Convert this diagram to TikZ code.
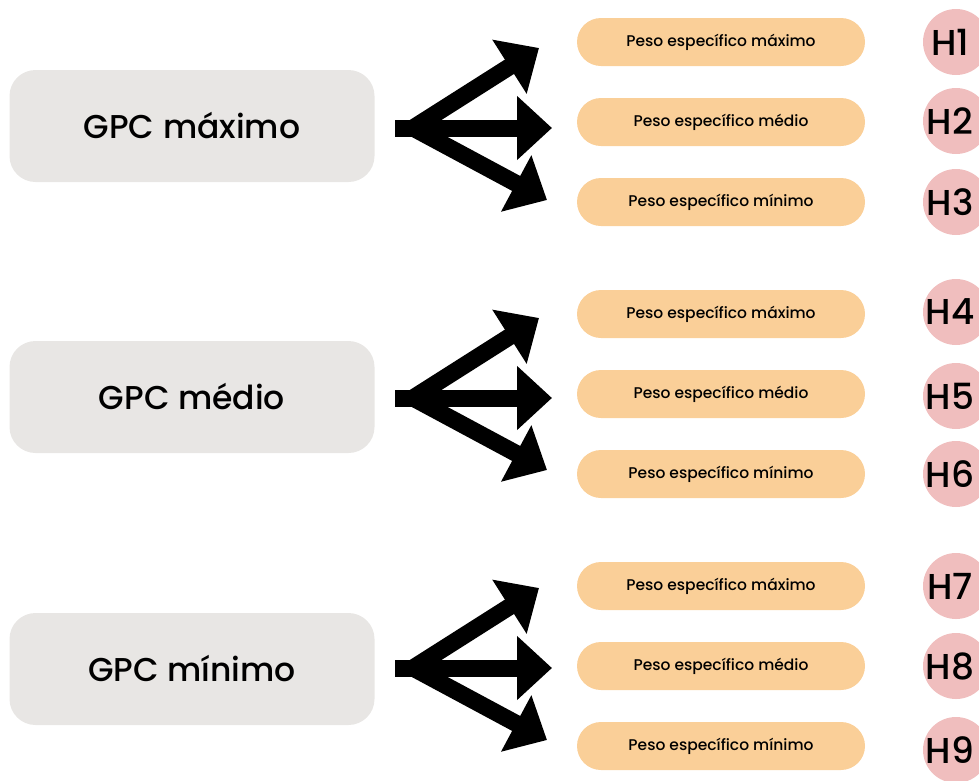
\documentclass[tikz,border=0pt]{standalone}
\usepackage{fontspec}
\setmainfont{Poppins Medium}
\usetikzlibrary{arrows.meta}
\definecolor{gpcgray}{RGB}{232,230,228}
\definecolor{pesoorange}{RGB}{250,207,152}
\definecolor{hpink}{RGB}{240,190,190}
\tikzset{
  gpcbox/.style={fill=gpcgray, draw=none, rounded corners=26pt,
    minimum width=365pt, minimum height=112pt, inner sep=0pt,
    font=\fontsize{33}{37}\selectfont},
  pesobox/.style={fill=pesoorange, draw=none, rounded corners=24pt,
    minimum width=288pt, minimum height=48pt, inner sep=0pt,
    font=\fontsize{15.5}{18}\selectfont},
  hcircle/.style={circle, fill=hpink, draw=none, minimum size=66pt,
    inner sep=0pt},
  htext/.style={inner sep=0pt, font=\fontsize{36}{40}\selectfont},
  bigarrow/.style={line width=17pt,
    -{Triangle[length=35pt,width=62pt]}},
  trunk/.style={line width=17pt}
}
\begin{document}
\begin{tikzpicture}[x=1pt,y=-1pt]
\useasboundingbox (0,0) rectangle (979,780);

% source boxes
\node[gpcbox] (g1) at (192,126) {GPC máximo};
\node[gpcbox] (g2) at (192,397) {GPC médio};
\node[gpcbox] (g3) at (192,669) {GPC mínimo};

% target pills
\node[pesobox] (p1) at (721,42)  {Peso específico máximo};
\node[pesobox] (p2) at (721,122) {Peso específico médio};
\node[pesobox] (p3) at (721,202) {Peso específico mínimo};
\node[pesobox] (p4) at (721,314) {Peso específico máximo};
\node[pesobox] (p5) at (721,394) {Peso específico médio};
\node[pesobox] (p6) at (721,474) {Peso específico mínimo};
\node[pesobox] (p7) at (721,586) {Peso específico máximo};
\node[pesobox] (p8) at (721,666) {Peso específico médio};
\node[pesobox] (p9) at (721,746) {Peso específico mínimo};

% hypothesis labels: pink disc with its label set slightly left of centre
\foreach \k/\y in {1/42,2/121,3/202,4/312,5/396,6/474,7/586,8/666,9/750}{
  \node[hcircle] (c\k) at (956,\y) {};
  \node[htext] (h\k) at ([xshift=-6pt]c\k.center) {H\k};
}

% three-way arrows
\foreach \i/\y in {1/128,2/398,3/668}{
  \coordinate (s\i) at (395,\y);
  \coordinate (j\i) at (413,\y);
  \coordinate (tu\i) at (539,\y-80);
  \coordinate (tm\i) at (552,\y);
  \coordinate (td\i) at (547,\y+72);
  \draw[trunk] (s\i) -- (430,\y);
  \draw[bigarrow] (j\i) -- (tu\i);
  \draw[bigarrow] (j\i) -- (tm\i);
  \draw[bigarrow] (j\i) -- (td\i);
}
\end{tikzpicture}
\end{document}
